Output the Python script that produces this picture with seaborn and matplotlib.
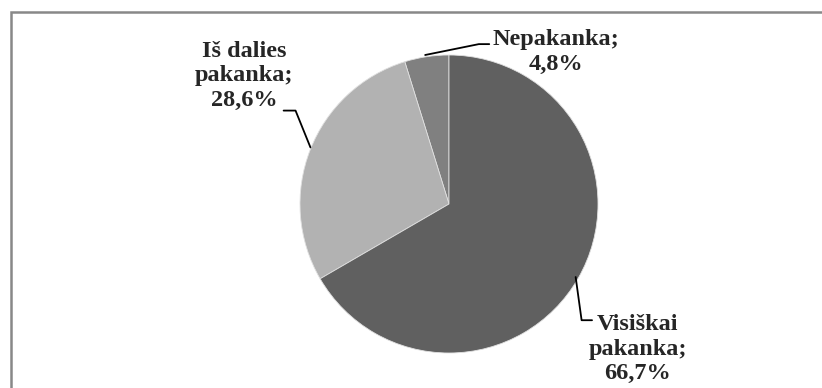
import matplotlib
matplotlib.use("Agg")
import matplotlib.pyplot as plt
import seaborn as sns
from matplotlib.patches import Rectangle

sns.set_theme(style="white")
plt.rcParams["font.family"] = ["Liberation Serif", "DejaVu Serif"]

# duomenys
kategorijos = ["Nepakanka", "Iš dalies\npakanka", "Visiškai\npakanka"]
procentai = [4.8, 28.6, 66.7]
etiketes = ["Nepakanka;\n4,8%", "Iš dalies\npakanka;\n28,6%", "Visiškai\npakanka;\n66,7%"]
spalvos = ["#808080", "#b2b2b2", "#606060"]

fig = plt.figure(figsize=(8.22, 3.88), dpi=100)
W, H = 822, 388
cx, cy, r = 449, 204, 149
ax = fig.add_axes([(cx - r) / W, (H - cy - r) / H, 2 * r / W, 2 * r / H])

ax.pie(procentai, colors=spalvos, startangle=90, counterclock=True,
       radius=1.0, wedgeprops=dict(edgecolor="#e0e0e0", linewidth=0.6))
ax.set_xlim(-1, 1)
ax.set_ylim(-1, 1)
ax.axis("off")

# etikečių vietos ir linijos (duomenų koordinatėse)
teksto_vietos = [(0.72, 1.02), (-1.373, 0.86), (1.265, -0.975)]
linijos = [
    [(-0.16, 1.0), (0.2, 1.073), (0.27, 1.073)],
    [(-0.93, 0.38), (-1.03, 0.627), (-1.11, 0.627)],
    [(0.85, -0.49), (0.89, -0.78), (0.96, -0.78)],
]
for txt, (tx, ty), lin in zip(etiketes, teksto_vietos, linijos):
    xs = [p[0] for p in lin]
    ys = [p[1] for p in lin]
    ax.plot(xs, ys, color="black", lw=1.3, clip_on=False)
    ax.text(tx, ty, txt, ha="center", va="center", fontsize=17.5,
            fontweight="bold", linespacing=1.22, clip_on=False)

fig.patches.append(Rectangle((11 / W, -0.1), 1.2, (H - 12) / H + 0.1,
                             transform=fig.transFigure, fill=False,
                             edgecolor="#888888", linewidth=1.8))

fig.savefig("out.png", dpi=100, facecolor="white")
